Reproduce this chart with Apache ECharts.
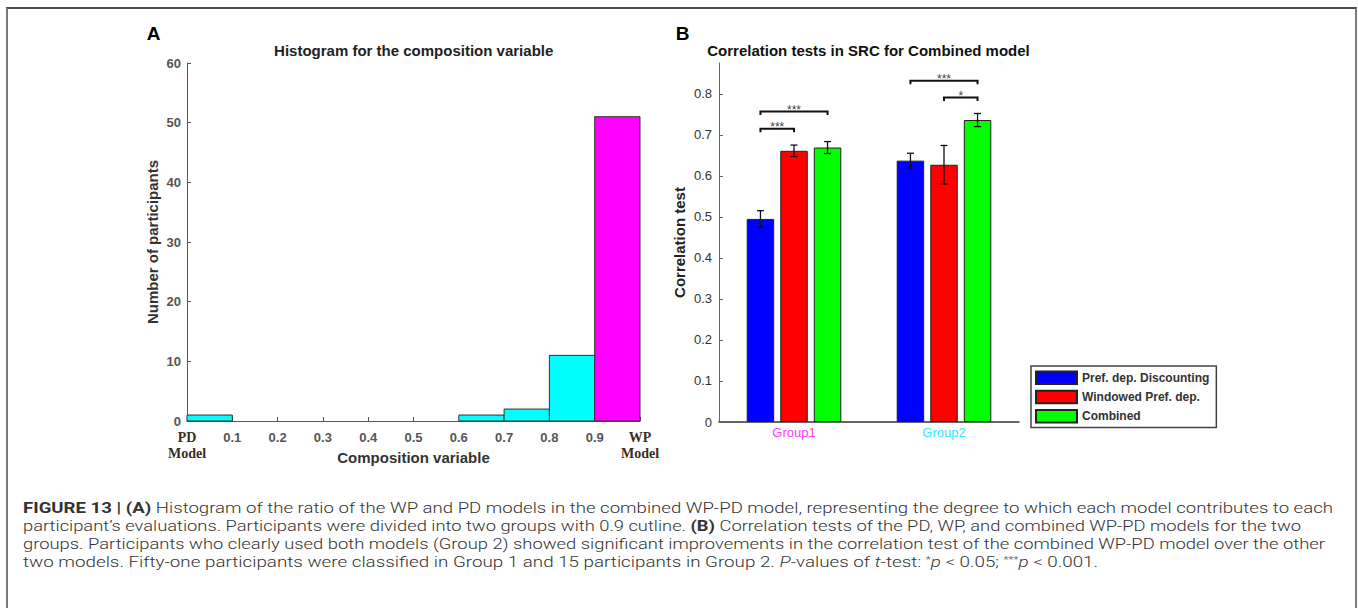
<!DOCTYPE html>
<html>
<head>
<meta charset="utf-8">
<script src="https://cdn.jsdelivr.net/npm/echarts@6.0.0/dist/echarts.min.js"></script>
<style>
  html, body { margin: 0; padding: 0; background: #fff; }
  #page { position: relative; width: 1358px; height: 608px; overflow: hidden; }
  #chart { position: absolute; left: 0; top: 0; width: 1358px; height: 608px; }
  #frame { position: absolute; left: 6px; top: 7px; width: 1347px; height: 700px;
           border: 2px solid #7a7a7a; border-top-color: #4a4a4a; pointer-events: none; }
  #caption { position: absolute; left: 23px; top: 499px; font-family: Roboto, "Liberation Sans", sans-serif;
             font-weight: 300; font-size: 15.3px; line-height: 18px; color: #333; }
  #caption .ln { white-space: nowrap; transform-origin: 0 0; display: block; width: max-content; height: 18px; }
  #caption b { font-weight: 700; }
  #caption sup { font-size: 9.5px; vertical-align: 4px; line-height: 0; }
</style>
</head>
<body>
<div id="page">
  <div id="chart"></div>
  <div id="frame"></div>
  <div id="caption">
    <div class="ln"><b>FIGURE 13 | (A)</b> Histogram of the ratio of the WP and PD models in the combined WP-PD model, representing the degree to which each model contributes to each</div>
    <div class="ln">participant’s evaluations. Participants were divided into two groups with 0.9 cutline. <b>(B)</b> Correlation tests of the PD, WP, and combined WP-PD models for the two</div>
    <div class="ln">groups. Participants who clearly used both models (Group 2) showed significant improvements in the correlation test of the combined WP-PD model over the other</div>
    <div class="ln">two models. Fifty-one participants were classified in Group 1 and 15 participants in Group 2. <i>P</i>-values of <i>t</i>-test: <sup>*</sup><i>p</i> &lt; 0.05; <sup>***</sup><i>p</i> &lt; 0.001.</div>
  </div>
</div>
<script>
// ---- panel A: histogram of the composition variable ----
var binEdges = [0, 0.1, 0.2, 0.3, 0.4, 0.5, 0.6, 0.7, 0.8, 0.9, 1.0];
var binCounts = [1, 0, 0, 0, 0, 0, 1, 2, 11, 51];
var cutline = 0.9;
var xTickLabelsA = ['PD\nModel', '0.1', '0.2', '0.3', '0.4', '0.5', '0.6', '0.7', '0.8', '0.9', 'WP\nModel'];

// ---- panel B: correlation tests ----
var groups = ['Group1', 'Group2'];
var modelNames = ['Pref. dep. Discounting', 'Windowed Pref. dep.', 'Combined'];
var discounting = [0.495, 0.637];
var windowed = [0.661, 0.627];
var combined = [0.669, 0.736];
var errDiscounting = [0.020, 0.018];
var errWindowed = [0.014, 0.047];
var errCombined = [0.0145, 0.016];
var yTicksB = [0, 0.1, 0.2, 0.3, 0.4, 0.5, 0.6, 0.7, 0.8];
// [group, from bar, to bar, height, label]
var sigBrackets = [
  [0, 0, 1, 0.715, '***'],
  [0, 0, 2, 0.757, '***'],
  [1, 0, 2, 0.832, '***'],
  [1, 1, 2, 0.791, '*']
];

var FONT = '"Liberation Sans", Arial, sans-serif';
var BAR_W = 27.5;
var BAR_GAP = 0.22;
var groupColors = ['#ff3cff', '#2ee6ff'];
var modelColors = ['#0000ff', '#ff0000', '#00ff00'];

var myChart = echarts.init(document.getElementById('chart'), null, {renderer: 'svg'});

var histData = [];
for (var i = 0; i < binCounts.length; i++) {
  histData.push([binEdges[i], binEdges[i + 1], binCounts[i]]);
}

var allValues = [discounting, windowed, combined];
var allErrors = [errDiscounting, errWindowed, errCombined];
var errData = [];
for (var s = 0; s < 3; s++) {
  for (var g = 0; g < groups.length; g++) {
    errData.push([g, allValues[s][g], allErrors[s][g], s]);
  }
}

function barOffset(idx) {
  return (idx - 1) * (BAR_W + BAR_W * BAR_GAP);
}

var barSeries = [];
for (var s = 0; s < 3; s++) {
  barSeries.push({
    name: modelNames[s],
    type: 'bar',
    xAxisIndex: 1,
    yAxisIndex: 1,
    data: allValues[s],
    barWidth: BAR_W,
    barGap: (BAR_GAP * 100) + '%',
    itemStyle: {color: modelColors[s], borderColor: '#222', borderWidth: 1},
    emphasis: {disabled: true}
  });
}

var option = {
  animation: false,
  textStyle: {fontFamily: FONT},
  graphic: [
    {type: 'text', x: 153.5, y: 33, style: {text: 'A', font: 'bold 19px ' + FONT, fill: '#000', align: 'center', verticalAlign: 'middle'}},
    {type: 'text', x: 682.5, y: 33, style: {text: 'B', font: 'bold 19px ' + FONT, fill: '#000', align: 'center', verticalAlign: 'middle'}},
    {type: 'text', x: 413.7, y: 50.5, style: {text: 'Histogram for the composition variable', font: 'bold 15px ' + FONT, fill: '#222', align: 'center', verticalAlign: 'middle'}},
    {type: 'text', x: 868.5, y: 50.5, style: {text: 'Correlation tests in SRC for Combined model', font: 'bold 15px ' + FONT, fill: '#111', align: 'center', verticalAlign: 'middle'}}
  ],
  legend: {
    data: modelNames,
    orient: 'vertical',
    left: 1031,
    top: 366,
    icon: 'rect',
    itemWidth: 41,
    itemHeight: 12.5,
    itemGap: 4.8,
    padding: [4.5, 7, 4, 4],
    borderColor: '#444',
    borderWidth: 1.5,
    selectedMode: false,
    textStyle: {fontFamily: FONT, fontWeight: 'bold', fontSize: 12, color: '#333'}
  },
  grid: [
    {left: 187, top: 63, width: 453, height: 358},
    {left: 719, top: 63, width: 300, height: 359}
  ],
  xAxis: [
    {
      gridIndex: 0,
      type: 'value',
      min: 0,
      max: 1,
      interval: 0.1,
      splitLine: {show: false},
      axisLine: {lineStyle: {color: '#555', width: 1}},
      axisTick: {inside: true, length: 4, lineStyle: {color: '#555'}},
      axisLabel: {
        margin: 8,
        lineHeight: 16,
        fontSize: 13,
        fontWeight: 'bold',
        color: '#555',
        formatter: function (v) {
          var t = xTickLabelsA[Math.round(v * 10)];
          if (t.indexOf('\n') >= 0) {
            return t.split('\n').map(function (p) { return '{m|' + p + '}'; }).join('\n');
          }
          return t;
        },
        rich: {
          m: {fontFamily: '"Liberation Serif", "Times New Roman", serif', fontWeight: 'bold', fontSize: 14, color: '#3b2e1e', lineHeight: 16}
        }
      },
      name: 'Composition variable',
      nameLocation: 'middle',
      nameGap: 29,
      nameMoveOverlap: false,
      nameTextStyle: {fontWeight: 'bold', fontSize: 15, color: '#333'}
    },
    {
      gridIndex: 1,
      type: 'category',
      data: groups.map(function (g, k) { return {value: g, textStyle: {color: groupColors[k]}}; }),
      axisLine: {lineStyle: {color: '#333', width: 1.5}},
      axisTick: {show: false},
      axisLabel: {margin: 4, fontSize: 13}
    }
  ],
  yAxis: [
    {
      gridIndex: 0,
      type: 'value',
      min: 0,
      max: 60,
      interval: 10,
      splitLine: {show: false},
      axisLine: {show: true, lineStyle: {color: '#555', width: 1}},
      axisTick: {show: true, inside: true, length: 4, lineStyle: {color: '#555'}},
      axisLabel: {margin: 6, fontSize: 13, fontWeight: 'bold', color: '#555'},
      name: 'Number of participants',
      nameLocation: 'middle',
      nameGap: 27,
      nameMoveOverlap: false,
      nameTextStyle: {fontWeight: 'bold', fontSize: 15, color: '#333'}
    },
    {
      gridIndex: 1,
      type: 'value',
      min: 0,
      max: 0.875,
      splitLine: {show: false},
      axisLine: {show: true, lineStyle: {color: '#666', width: 1}},
      axisTick: {show: true, inside: true, length: 4, customValues: yTicksB, lineStyle: {color: '#666'}},
      axisLabel: {margin: 7, fontSize: 13, color: '#333', customValues: yTicksB},
      name: 'Correlation test',
      nameLocation: 'middle',
      nameGap: 32,
      nameMoveOverlap: false,
      nameTextStyle: {fontWeight: 'bold', fontSize: 15, color: '#222'}
    }
  ],
  series: [
    {
      type: 'custom',
      xAxisIndex: 0,
      yAxisIndex: 0,
      data: histData,
      encode: {x: [0, 1], y: 2},
      renderItem: function (params, api) {
        var c = api.value(2);
        if (c === 0) return null;
        var p0 = api.coord([api.value(0), c]);
        var p1 = api.coord([api.value(1), 0]);
        return {
          type: 'rect',
          shape: {x: p0[0], y: p0[1], width: p1[0] - p0[0], height: p1[1] - p0[1]},
          style: {fill: api.value(0) >= cutline - 1e-9 ? '#ff00ff' : '#00ffff', stroke: '#333', lineWidth: 1}
        };
      }
    }
  ].concat(barSeries).concat([
    {
      type: 'custom',
      xAxisIndex: 1,
      yAxisIndex: 1,
      z: 5,
      data: errData,
      encode: {x: 0, y: 1},
      renderItem: function (params, api) {
        var g = api.value(0), v = api.value(1), e = api.value(2), s = api.value(3);
        var x = api.coord([g, v])[0] + barOffset(s);
        var top = api.coord([g, v + e])[1];
        var bot = api.coord([g, v - e])[1];
        var st = {stroke: '#111', lineWidth: 1.3};
        return {
          type: 'group',
          children: [
            {type: 'line', shape: {x1: x, y1: top, x2: x, y2: bot}, style: st},
            {type: 'line', shape: {x1: x - 3.5, y1: top, x2: x + 3.5, y2: top}, style: st},
            {type: 'line', shape: {x1: x - 3.5, y1: bot, x2: x + 3.5, y2: bot}, style: st}
          ]
        };
      }
    },
    {
      type: 'custom',
      xAxisIndex: 1,
      yAxisIndex: 1,
      z: 5,
      data: sigBrackets.map(function (b) { return [b[0], b[3]]; }),
      encode: {x: 0, y: 1},
      renderItem: function (params, api) {
        var b = sigBrackets[params.dataIndex];
        var c = api.coord([b[0], b[3]]);
        var xa = c[0] + barOffset(b[1]);
        var xb = c[0] + barOffset(b[2]);
        var y = c[1];
        return {
          type: 'group',
          children: [
            {type: 'polyline', shape: {points: [[xa, y + 3.5], [xa, y], [xb, y], [xb, y + 3.5]]},
             style: {stroke: '#111', lineWidth: 2, fill: null}},
            {type: 'text', x: (xa + xb) / 2, y: y - 1.5,
             style: {text: b[4], font: '12px ' + FONT, fill: '#444', align: 'center', verticalAlign: 'middle'}}
          ]
        };
      }
    }
  ])
};
myChart.setOption(option);

// stretch each caption line to the width it has in the figure
function fitCaption() {
  var targets = [1310, 1278, 1302, 1075];
  var lines = document.querySelectorAll('#caption .ln');
  for (var i = 0; i < lines.length; i++) {
    var w = lines[i].getBoundingClientRect().width;
    lines[i].style.transform = 'scaleX(' + (targets[i] / w) + ')';
  }
}
if (document.fonts && document.fonts.ready) {
  document.fonts.ready.then(fitCaption);
} else {
  fitCaption();
}
</script>
</body>
</html>
